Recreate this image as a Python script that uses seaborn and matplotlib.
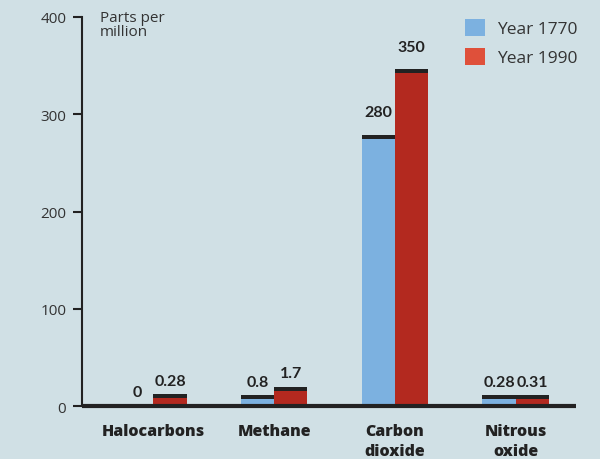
import pandas as pd
import matplotlib
matplotlib.use("Agg")
import matplotlib.pyplot as plt
import seaborn as sns
from matplotlib.patches import Patch

# Gases and the two years compared
categories = ["Halocarbons", "Methane", "Carbon\ndioxide", "Nitrous\noxide"]
years = ["Year 1770", "Year 1990"]

# Printed concentrations (parts per million)
ppm_1770 = [0, 0.8, 280, 0.28]
ppm_1990 = [0.28, 1.7, 350, 0.31]

# Bar heights as drawn in the original (tiny values are exaggerated so they show)
drawn_1770 = [0, 11, 279, 11]
drawn_1990 = [12, 19.5, 346, 11]

yticks = [0, 100, 200, 300, 400]

bg = "#d0e0e5"
blue = "#7cb1e0"
red = "#b3291f"
legend_red = "#df503a"
ink = "#222222"

df = pd.DataFrame({
    "gas": categories * 2,
    "year": [years[0]] * 4 + [years[1]] * 4,
    "drawn": drawn_1770 + drawn_1990,
})

sns.set_style("white")
plt.rcParams["font.family"] = ["Open Sans", "DejaVu Sans"]

fig = plt.figure(figsize=(6, 4.6), dpi=100, facecolor=bg)
ax = fig.add_axes([0.137, 0.115, 0.823, 0.846], facecolor=bg)

sns.barplot(data=df, x="gas", y="drawn", hue="year", order=categories,
            hue_order=years, palette=[blue, red], width=0.55, gap=0,
            saturation=1, linewidth=0, legend=False, ax=ax)

# black caps on top of each bar + value labels
cap = 4
for cont, vals in zip(ax.containers, [ppm_1770, ppm_1990]):
    for patch, v in zip(cont, vals):
        h = patch.get_height()
        xc = patch.get_x() + patch.get_width() / 2
        if h > 0:
            ax.bar(patch.get_x(), cap, bottom=h - cap, width=patch.get_width(),
                   align="edge", color=ink, linewidth=0, zorder=3)
        off = 16 if v > 100 else 10
        ax.annotate(f"{v:g}", (xc, h), xytext=(0, off), textcoords="offset points",
                    ha="center", va="center", fontsize=11.5, fontweight="bold",
                    family=["Lato", "DejaVu Sans"], color=ink)

ax.set_xlim(-0.59, 3.5)
ax.set_ylim(0, 400)
ax.set_yticks(yticks)
ax.set_xlabel("")
ax.set_ylabel("")

for s in ["top", "right"]:
    ax.spines[s].set_visible(False)
ax.spines["left"].set_linewidth(1.5)
ax.spines["left"].set_color(ink)
ax.spines["bottom"].set_linewidth(3)
ax.spines["bottom"].set_color(ink)
ax.spines["bottom"].set_capstyle("butt")

ax.tick_params(axis="y", length=6.5, width=1.5, color=ink, pad=5,
               labelsize=11, labelcolor="#333333", left=True)
ax.tick_params(axis="x", length=0, pad=12, labelsize=11.5, labelcolor=ink)
for lab in ax.get_xticklabels():
    lab.set_fontweight("heavy")
    lab.set_linespacing(1.35)

ax.text(0.036, 1.018, "Parts per\nmillion", transform=ax.transAxes,
        ha="left", va="top", fontsize=11, color="#333333", linespacing=0.95)

handles = [Patch(facecolor=blue, edgecolor="none", label=years[0]),
           Patch(facecolor=legend_red, edgecolor="none", label=years[1])]
ax.legend(handles=handles, loc="upper right", bbox_to_anchor=(1.035, 1.035),
          frameon=False, fontsize=12.5, handlelength=1.15, handleheight=1.15,
          handletextpad=0.7, labelspacing=0.6, labelcolor="#333333")

fig.savefig("out.png", dpi=100, facecolor=bg)
